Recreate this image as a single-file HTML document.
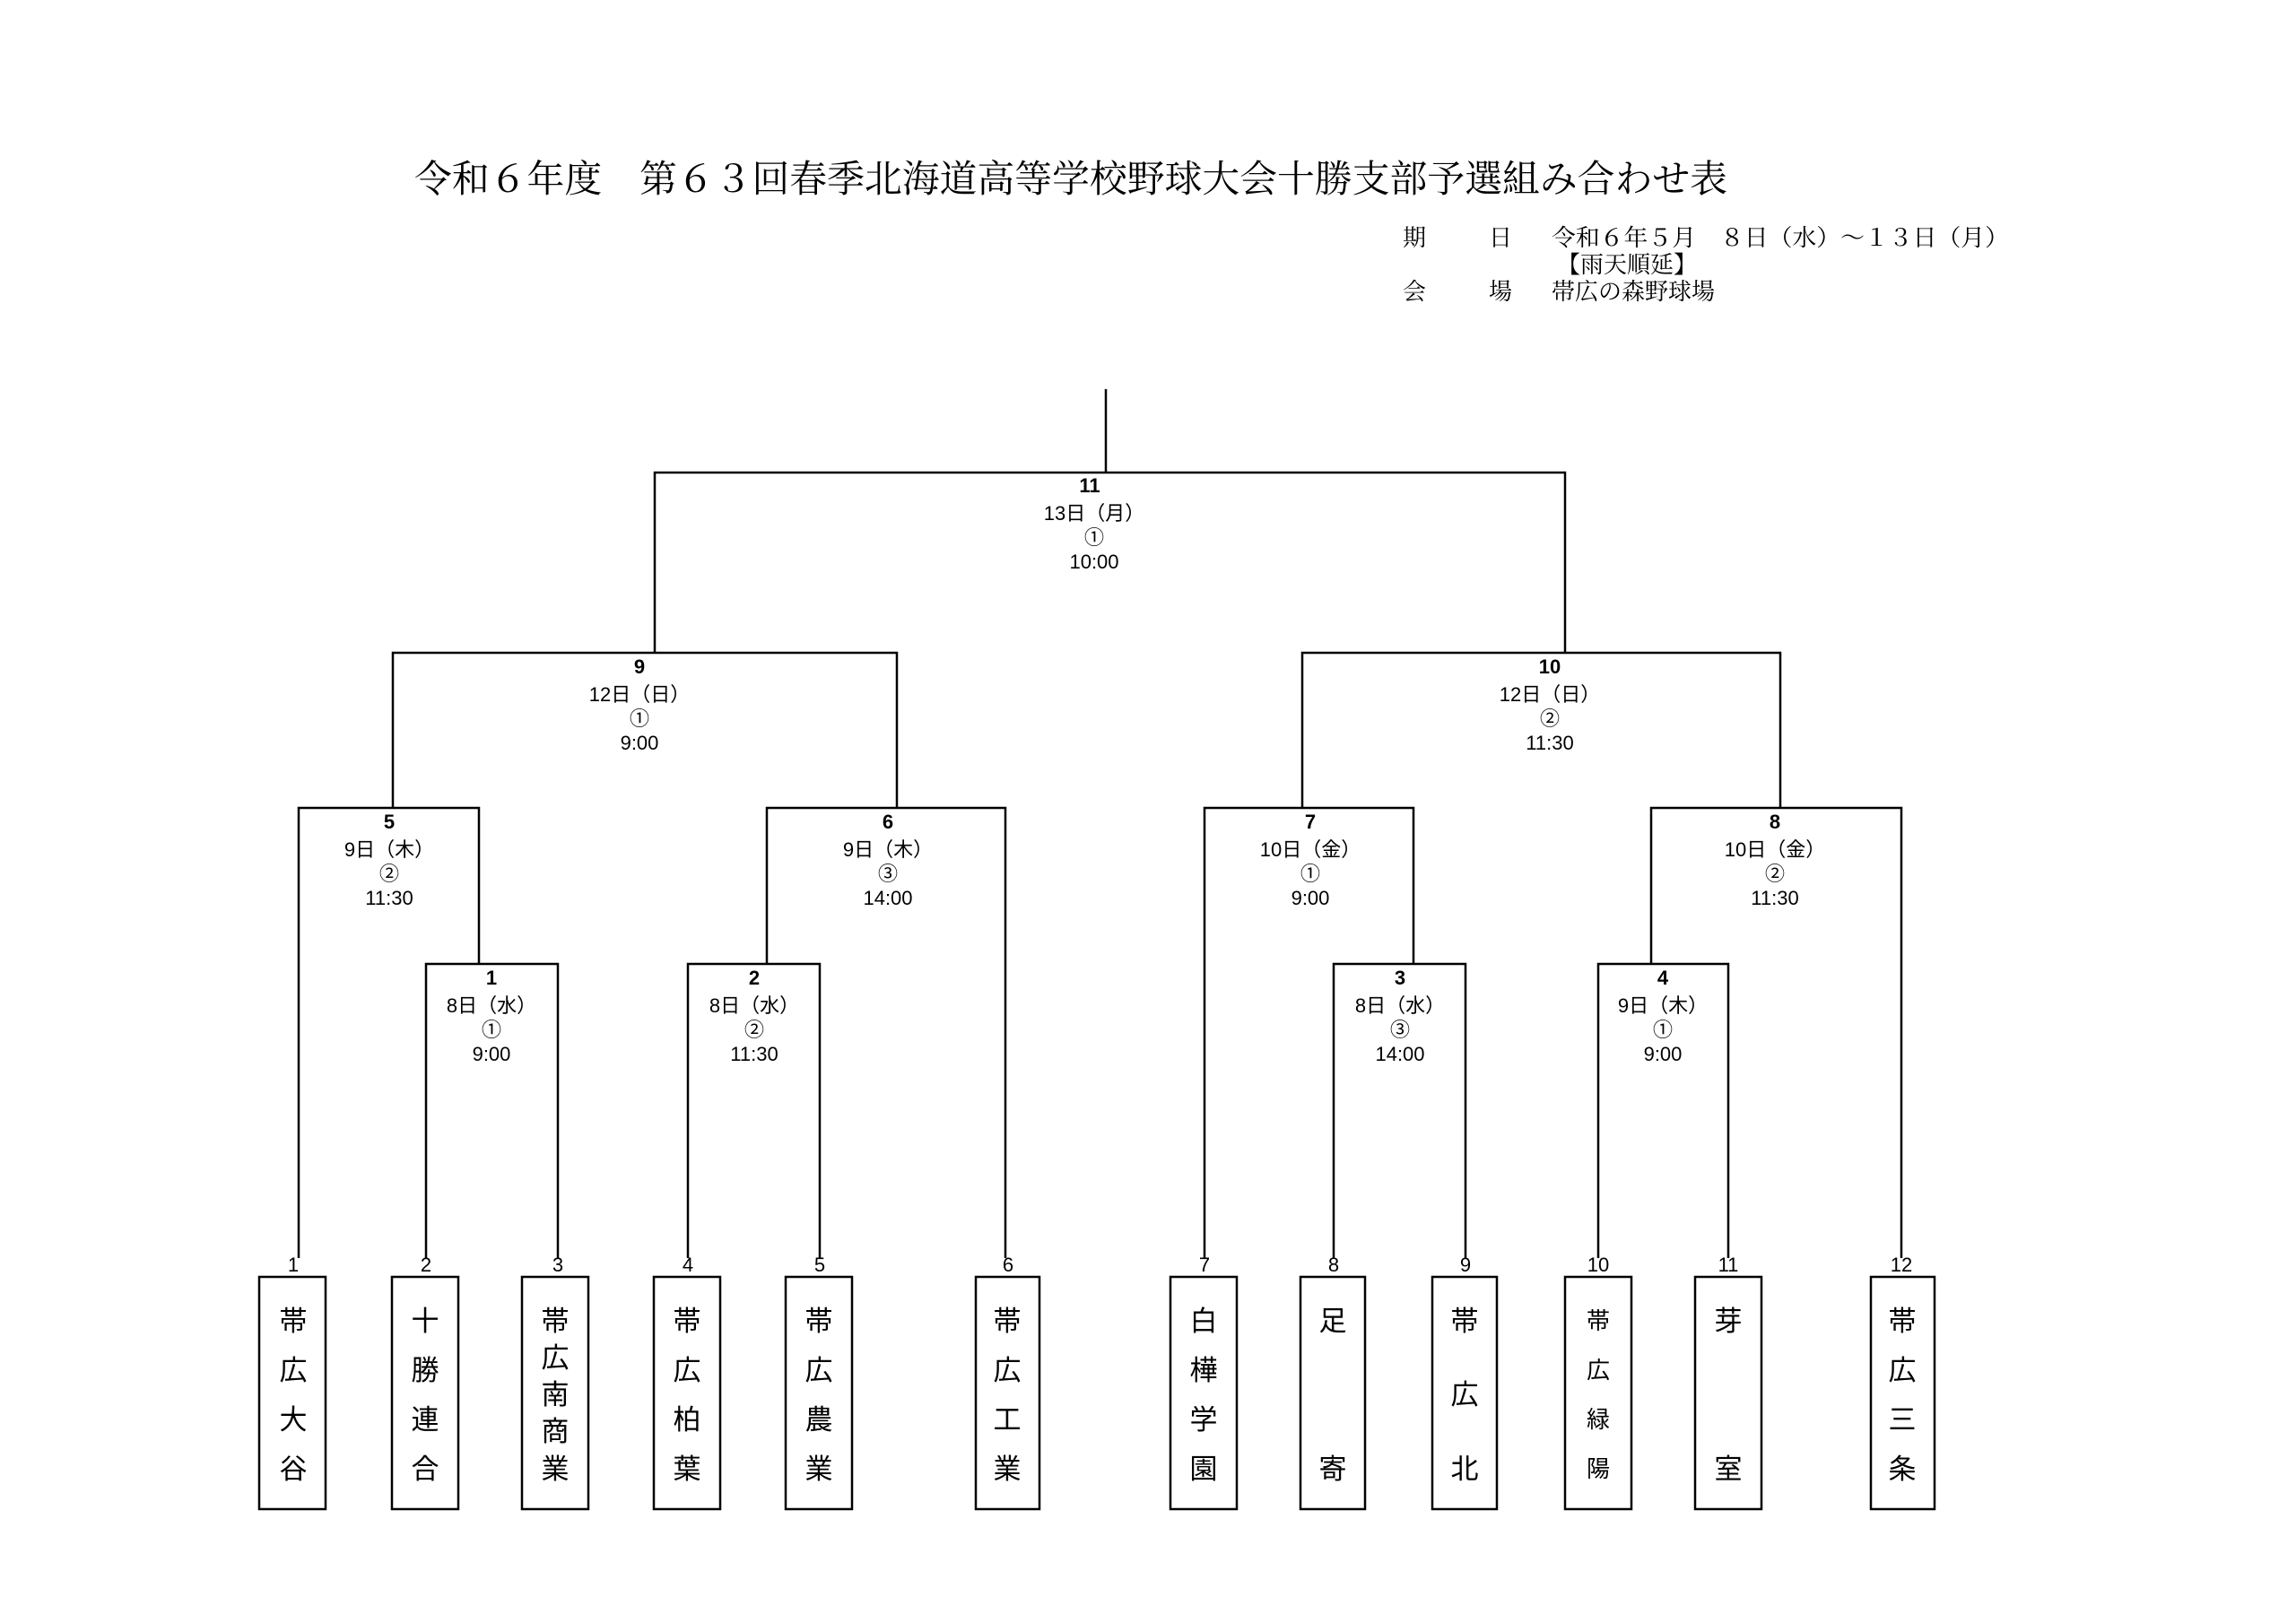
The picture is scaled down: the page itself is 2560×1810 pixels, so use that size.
<!DOCTYPE html>
<html><head><meta charset="utf-8"><style>
html,body{margin:0;padding:0;background:#fff}
svg{display:block}
.g{font-family:"Liberation Sans","Noto Sans CJK JP",sans-serif;fill:#000}
.s{font-family:"Liberation Serif","Noto Serif CJK SC",serif;fill:#000}
</style></head><body>
<svg width="2560" height="1810" viewBox="0 0 2560 1810" xmlns="http://www.w3.org/2000/svg">
<text class="s" x="462" y="214" font-size="42" textLength="1464" lengthAdjust="spacingAndGlyphs">令和６年度　第６３回春季北海道高等学校野球大会十勝支部予選組み合わせ表</text>
<g class="s" font-size="26">
<text x="1564" y="274">期</text><text x="1660" y="274">日</text>
<text x="1730" y="274" textLength="510" lengthAdjust="spacingAndGlyphs">令和６年５月　８日（水）～１３日（月）</text>
<text x="1736" y="304">【雨天順延】</text>
<text x="1564" y="334">会</text><text x="1660" y="334">場</text>
<text x="1730" y="334">帯広の森野球場</text>
</g>
<g stroke="#000" stroke-width="2.5" fill="none">
<line x1="1233" y1="434" x2="1233" y2="527"/>
<path d="M730 728 V527 H1745 V728"/>
<path d="M438 902 V728 H1000 V902"/>
<path d="M1452 902 V728 H1985 V902"/>
<path d="M333 1403 V901 H534 V1075"/>
<path d="M475 1403 V1075 H622 V1403"/>
<path d="M855 1075 V901 H1121 V1403"/>
<path d="M767 1403 V1075 H914 V1403"/>
<path d="M1343 1403 V901 H1576 V1075"/>
<path d="M1487 1403 V1075 H1634 V1403"/>
<path d="M1841 1075 V901 H2120 V1403"/>
<path d="M1782 1403 V1075 H1927 V1403"/>
</g>
<g class="g" text-anchor="middle" font-size="22">
<g><text x="1215" y="549" font-weight="bold">11</text><text x="1220" y="580">13日（月）</text><text x="1220" y="607">①</text><text x="1220" y="634">10:00</text></g>
<g><text x="713" y="751" font-weight="bold">9</text><text x="713" y="782">12日（日）</text><text x="713" y="809">①</text><text x="713" y="836">9:00</text></g>
<g><text x="1728" y="751" font-weight="bold">10</text><text x="1728" y="782">12日（日）</text><text x="1728" y="809">②</text><text x="1728" y="836">11:30</text></g>
<g><text x="434" y="924" font-weight="bold">5</text><text x="434" y="955">9日（木）</text><text x="434" y="982">②</text><text x="434" y="1009">11:30</text></g>
<g><text x="990" y="924" font-weight="bold">6</text><text x="990" y="955">9日（木）</text><text x="990" y="982">③</text><text x="990" y="1009">14:00</text></g>
<g><text x="1461" y="924" font-weight="bold">7</text><text x="1461" y="955">10日（金）</text><text x="1461" y="982">①</text><text x="1461" y="1009">9:00</text></g>
<g><text x="1979" y="924" font-weight="bold">8</text><text x="1979" y="955">10日（金）</text><text x="1979" y="982">②</text><text x="1979" y="1009">11:30</text></g>
<g><text x="548" y="1098" font-weight="bold">1</text><text x="548" y="1129">8日（水）</text><text x="548" y="1156">①</text><text x="548" y="1183">9:00</text></g>
<g><text x="841" y="1098" font-weight="bold">2</text><text x="841" y="1129">8日（水）</text><text x="841" y="1156">②</text><text x="841" y="1183">11:30</text></g>
<g><text x="1561" y="1098" font-weight="bold">3</text><text x="1561" y="1129">8日（水）</text><text x="1561" y="1156">③</text><text x="1561" y="1183">14:00</text></g>
<g><text x="1854" y="1098" font-weight="bold">4</text><text x="1854" y="1129">9日（木）</text><text x="1854" y="1156">①</text><text x="1854" y="1183">9:00</text></g>
</g>
<g class="g" text-anchor="middle" font-size="22">
<text x="327" y="1418">1</text><text x="475" y="1418">2</text><text x="622" y="1418">3</text><text x="767" y="1418">4</text><text x="914" y="1418">5</text><text x="1124" y="1418">6</text><text x="1343" y="1418">7</text><text x="1487" y="1418">8</text><text x="1634" y="1418">9</text><text x="1782" y="1418">10</text><text x="1927" y="1418">11</text><text x="2120" y="1418">12</text>
</g>
<g stroke="#000" stroke-width="2.5" fill="#fff">
<rect x="289" y="1424" width="74" height="259"/>
<rect x="437" y="1424" width="74" height="259"/>
<rect x="582" y="1424" width="74" height="259"/>
<rect x="729" y="1424" width="74" height="259"/>
<rect x="876" y="1424" width="74" height="259"/>
<rect x="1088" y="1424" width="71" height="259"/>
<rect x="1305" y="1424" width="74" height="259"/>
<rect x="1450" y="1424" width="72" height="259"/>
<rect x="1597" y="1424" width="72" height="259"/>
<rect x="1745" y="1424" width="74" height="259"/>
<rect x="1890" y="1424" width="74" height="259"/>
<rect x="2086" y="1424" width="71" height="259"/>
</g>
<g class="g" text-anchor="middle" font-size="31">
<text x="327" y="1484">帯</text><text x="327" y="1539">広</text><text x="327" y="1594">大</text><text x="327" y="1649">谷</text>
<text x="474" y="1484">十</text><text x="474" y="1539">勝</text><text x="474" y="1594">連</text><text x="474" y="1649">合</text>
<text x="619" y="1484">帯</text><text x="619" y="1525">広</text><text x="619" y="1566">南</text><text x="619" y="1607">商</text><text x="619" y="1649">業</text>
<text x="766" y="1484">帯</text><text x="766" y="1539">広</text><text x="766" y="1594">柏</text><text x="766" y="1649">葉</text>
<text x="913" y="1484">帯</text><text x="913" y="1539">広</text><text x="913" y="1594">農</text><text x="913" y="1649">業</text>
<text x="1123" y="1484">帯</text><text x="1123" y="1539">広</text><text x="1123" y="1594">工</text><text x="1123" y="1649">業</text>
<text x="1342" y="1484">白</text><text x="1342" y="1539">樺</text><text x="1342" y="1594">学</text><text x="1342" y="1649">園</text>
<text x="1486" y="1484">足</text><text x="1486" y="1649">寄</text>
<text x="1633" y="1484">帯</text><text x="1633" y="1566">広</text><text x="1633" y="1649">北</text>
<text x="1927" y="1484">芽</text><text x="1927" y="1649">室</text>
<text x="2121" y="1484">帯</text><text x="2121" y="1539">広</text><text x="2121" y="1594">三</text><text x="2121" y="1649">条</text>
</g>
<g class="g" text-anchor="middle" font-size="26">
<text x="1782" y="1482">帯</text><text x="1782" y="1537">広</text><text x="1782" y="1592">緑</text><text x="1782" y="1647">陽</text>
</g>
</svg>
</body></html>
